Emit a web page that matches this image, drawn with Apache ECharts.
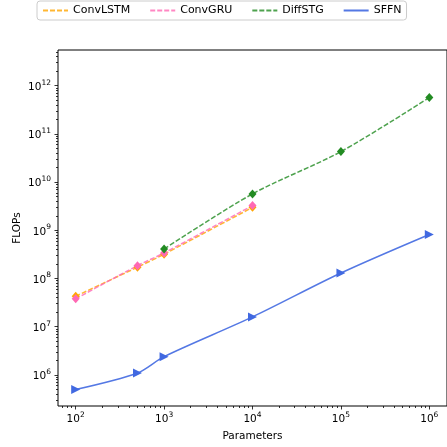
<!DOCTYPE html>
<html>
<head>
<meta charset="utf-8">
<script src="https://cdn.jsdelivr.net/npm/echarts@6/dist/echarts.min.js"></script>
<style>
html, body { margin: 0; padding: 0; background: #fff; }
#chart { width: 447px; height: 447px; }
</style>
</head>
<body>
<div id="chart"></div>
<script>
'use strict';

// data (log-log)
var convLstmX = [100, 500, 1000, 10000];
var convLstmY = [4.3e7, 1.72e8, 3.2e8, 3.0e9];
var convGruX = [100, 500, 1000, 10000];
var convGruY = [3.8e7, 1.85e8, 3.4e8, 3.27e9];
var diffStgX = [1000, 10000, 100000, 1000000];
var diffStgY = [4.1e8, 5.7e9, 4.3e10, 5.7e11];
var sffnX = [100, 500, 1000, 10000, 100000, 1000000];
var sffnY = [5.0e5, 1.1e6, 2.4e6, 1.6e7, 1.3e8, 8.2e8];

// tick labels (powers of ten)
var xTickExp = [2, 3, 4, 5, 6];
var yTickExp = [6, 7, 8, 9, 10, 11, 12];

// axis extents in decades
var xLogMin = 1.8, xLogMax = 6.2;
var yLogMin = 5.356, yLogMax = 12.741;

function zip(xs, ys) {
	return xs.map(function(x, i) { return [x, ys[i]]; });
}
function minorTicks(lo, hi) {
	var out = [];
	for (var n = Math.floor(lo); n <= Math.ceil(hi); n++) {
		for (var k = 2; k <= 9; k++) {
			var v = n + Math.log10(k);
			if (v >= lo && v <= hi) out.push(v);
		}
	}
	return out;
}

var font = 'DejaVu Sans';
var supRich = {
	b: { fontFamily: font, fontSize: 10.5, lineHeight: 14, color: '#000', verticalAlign: 'bottom' },
	s: { fontFamily: font, fontSize: 7.5, lineHeight: 8, color: '#000', verticalAlign: 'top' }
};
function powLabel(v) {
	return '{b|10}{s|' + Math.round(v) + '}';
}

var chart = echarts.init(document.getElementById('chart'));

var dash = [5, 2];
var option = {
	animation: false,
	textStyle: { fontFamily: font },
	grid: {
		left: 58, top: 50, width: 397, height: 359,
		show: true, borderColor: '#000', borderWidth: 1, backgroundColor: 'transparent'
	},
	legend: {
		left: 37, top: 1,
		padding: [4, 5, 4, 5],
		itemWidth: 25, itemHeight: 10, itemGap: 19,
		borderColor: '#cccccc', borderWidth: 1, borderRadius: 3,
		itemStyle: { opacity: 0 },
		textStyle: { fontFamily: font, fontSize: 11, color: '#000' },
		data: ['ConvLSTM', 'ConvGRU', 'DiffSTG', 'SFFN']
	},
	xAxis: [{
		type: 'log',
		min: Math.pow(10, xLogMin), max: Math.pow(10, xLogMax),
		name: 'Parameters', nameLocation: 'middle', nameGap: 25,
		nameTextStyle: { fontFamily: font, fontSize: 10.5, color: '#000' },
		axisLine: { show: false }, axisTick: { show: false },
		axisLabel: { show: false }, splitLine: { show: false }
	}, {
		type: 'value', position: 'bottom',
		min: xLogMin, max: xLogMax,
		axisLine: { show: false },
		axisTick: { show: true, inside: false, length: 2, customValues: minorTicks(xLogMin, xLogMax), lineStyle: { color: '#000', width: 0.8 } },
		axisLabel: { show: false }, splitLine: { show: false }
	}, {
		type: 'value', position: 'bottom',
		min: xLogMin, max: xLogMax,
		axisLine: { show: false },
		axisTick: { show: true, inside: false, length: 3.5, customValues: xTickExp, lineStyle: { color: '#000', width: 0.8 } },
		axisLabel: { show: true, margin: 5, customValues: xTickExp, formatter: powLabel, rich: supRich },
		splitLine: { show: false }
	}],
	yAxis: [{
		type: 'log',
		min: Math.pow(10, yLogMin), max: Math.pow(10, yLogMax),
		name: 'FLOPs', nameLocation: 'middle', nameGap: 35,
		nameTextStyle: { fontFamily: font, fontSize: 10.5, color: '#000' },
		axisLine: { show: false }, axisTick: { show: false },
		axisLabel: { show: false }, splitLine: { show: false }
	}, {
		type: 'value', position: 'left',
		min: yLogMin, max: yLogMax,
		axisLine: { show: false },
		axisTick: { show: true, inside: false, length: 2, customValues: minorTicks(yLogMin, yLogMax), lineStyle: { color: '#000', width: 0.8 } },
		axisLabel: { show: false }, splitLine: { show: false }
	}, {
		type: 'value', position: 'left', offset: 0,
		min: yLogMin, max: yLogMax,
		axisLine: { show: false },
		axisTick: { show: true, inside: false, length: 3.5, customValues: yTickExp, lineStyle: { color: '#000', width: 0.8 } },
		axisLabel: { show: true, margin: 7, customValues: yTickExp, formatter: powLabel, rich: supRich },
		splitLine: { show: false }
	}],
	series: [{
		name: 'ConvLSTM', type: 'line', smooth: 0.3,
		data: zip(convLstmX, convLstmY),
		symbol: 'diamond', symbolSize: [8, 9],
		itemStyle: { color: '#ffa500' },
		lineStyle: { color: '#ffa500', width: 1.5, type: dash, opacity: 0.8 }
	}, {
		name: 'ConvGRU', type: 'line', smooth: 0.3,
		data: zip(convGruX, convGruY),
		symbol: 'diamond', symbolSize: [8, 9],
		itemStyle: { color: '#ff69b4' },
		lineStyle: { color: '#ff69b4', width: 1.5, type: dash, opacity: 0.8 }
	}, {
		name: 'DiffSTG', type: 'line', smooth: 0.3,
		data: zip(diffStgX, diffStgY),
		symbol: 'diamond', symbolSize: [8, 9],
		itemStyle: { color: '#228b22' },
		lineStyle: { color: '#228b22', width: 1.5, type: dash, opacity: 0.8 }
	}, {
		name: 'SFFN', type: 'line', smooth: 0.3,
		data: zip(sffnX, sffnY),
		symbol: 'triangle', symbolRotate: -90, symbolSize: 9,
		itemStyle: { color: '#4169e1' },
		lineStyle: { color: '#4169e1', width: 1.5, type: 'solid', opacity: 0.9 }
	}]
};
chart.setOption(option);
</script>
</body>
</html>
